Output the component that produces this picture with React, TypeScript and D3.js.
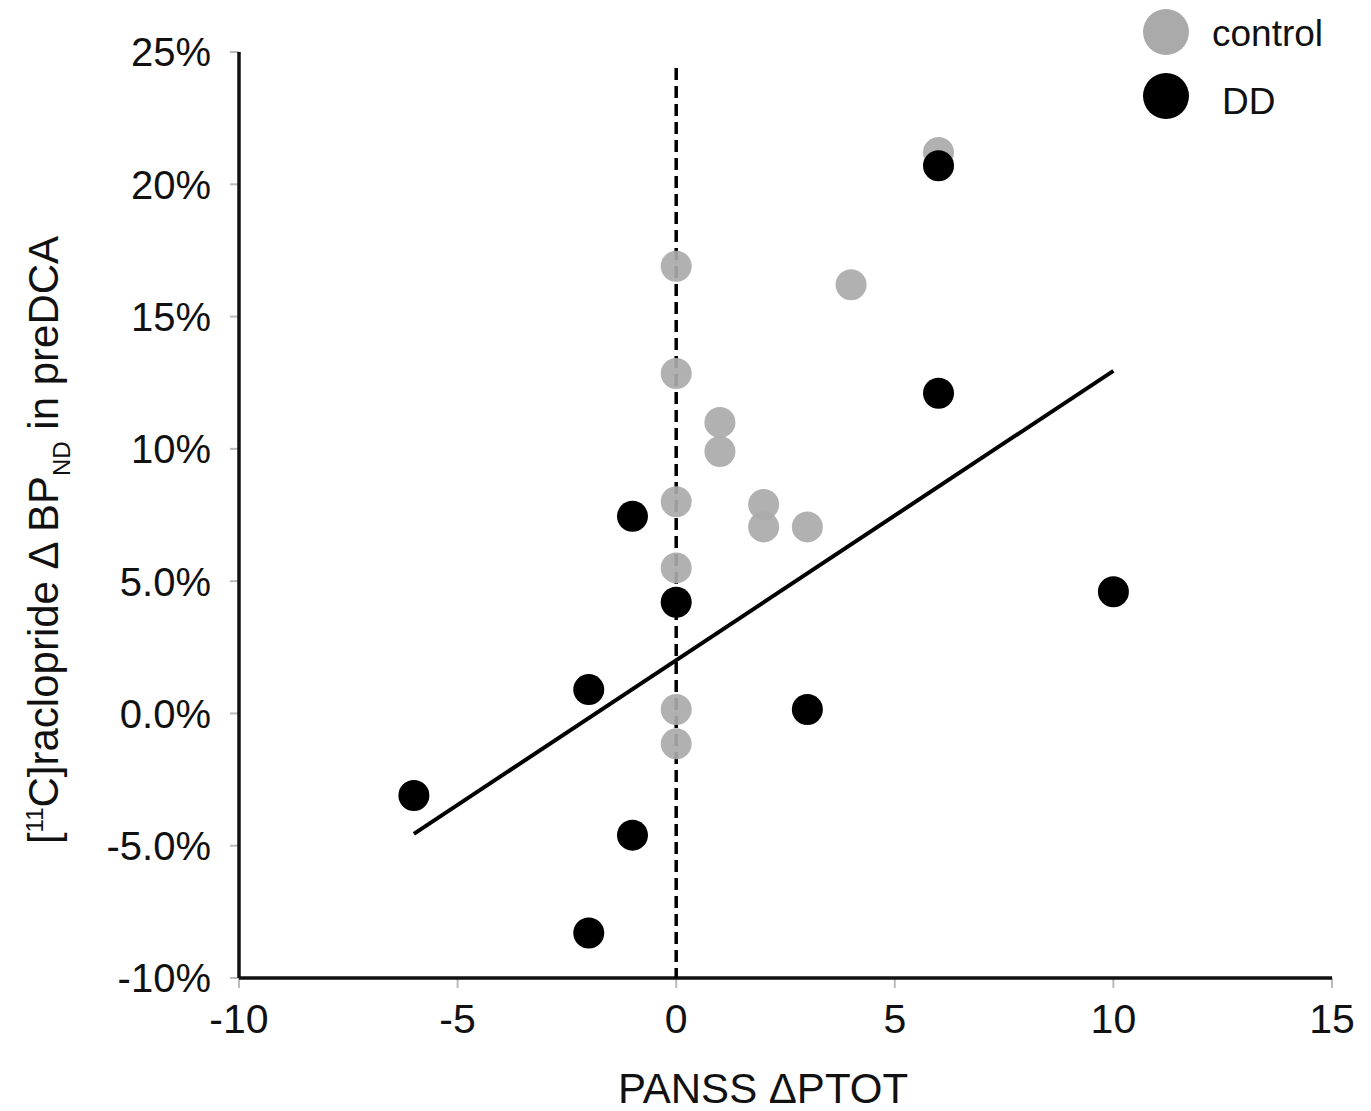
import React from "react";
import * as d3 from "d3";

const controlX = [6, 0, 4, 0, 1, 1, 0, 2, 2, 3, 0, 0, 0];
const controlY = [21.2, 16.9, 16.2, 12.85, 11.0, 9.9, 8.0, 7.9, 7.05, 7.05, 5.5, 0.15, -1.15];
const ddX = [6, 6, -1, 0, 10, -2, 3, -6, -1, -2];
const ddY = [20.7, 12.1, 7.45, 4.2, 4.6, 0.9, 0.15, -3.1, -4.6, -8.3];
const fitX = [-6, 10];
const fitY = [-4.55, 12.95];
const xTicks = [-10, -5, 0, 5, 10, 15];
const yTicks = [-10, -5, 0, 5, 10, 15, 20, 25];
const yTickLabels = ["-10%", "-5.0%", "0.0%", "5.0%", "10%", "15%", "20%", "25%"];
const legendLabels = ["control", "DD"];

const W = 1371;
const H = 1111;
const left = 239;
const right = 1332;
const top = 52;
const bottom = 978;
const FONT = "'Liberation Sans', Arial, Helvetica, sans-serif";

export default function App() {
  const x = d3.scaleLinear().domain([-10, 15]).range([left, right]);
  const y = d3.scaleLinear().domain([-10, 25]).range([bottom, top]);
  const line = d3.line<number>().x((d) => x(fitX[d])).y((d) => y(fitY[d]));
  const gray = "#aaaaaa";
  const r = 15.5;

  return (
    <svg width={W} height={H} style={{ position: "absolute", left: 0, top: 0, background: "#fff" }} fontFamily={FONT}>
      {/* ticks */}
      {yTicks.map((t, i) => (
        <g key={"y" + t}>
          <line x1={left - 9} x2={left} y1={y(t)} y2={y(t)} stroke="#bbb" strokeWidth={2} />
          <text x={left - 28} y={y(t)} dy="0.36em" textAnchor="end" fontSize={40} fill="#111">
            {yTickLabels[i]}
          </text>
        </g>
      ))}
      {xTicks.map((t) => (
        <g key={"x" + t}>
          <line x1={x(t)} x2={x(t)} y1={bottom} y2={bottom + 10} stroke="#bbb" strokeWidth={2} />
          <text x={x(t)} y={bottom + 40} dy="0.36em" textAnchor="middle" fontSize={41} fill="#111">
            {t}
          </text>
        </g>
      ))}
      {/* axes */}
      <line x1={left} x2={left} y1={top} y2={bottom} stroke="#111" strokeWidth={3.5} />
      <line x1={left} x2={right} y1={bottom} y2={bottom} stroke="#111" strokeWidth={3.5} />
      {/* dashed zero line */}
      <line x1={x(0)} x2={x(0)} y1={68} y2={bottom} stroke="#000" strokeWidth={3.5} strokeDasharray="12 6" />
      {/* points */}
      {controlX.map((v, i) => (
        <circle key={"c" + i} cx={x(v)} cy={y(controlY[i])} r={r} fill={gray} fillOpacity={0.92} />
      ))}
      {ddX.map((v, i) => (
        <circle key={"d" + i} cx={x(v)} cy={y(ddY[i])} r={r} fill="#000" />
      ))}
      {/* fit line */}
      <path d={line([0, 1]) || ""} stroke="#000" strokeWidth={4} fill="none" />
      {/* axis titles */}
      <text x={763} y={1103} textAnchor="middle" fontSize={42} fill="#111">
        PANSS ΔPTOT
      </text>
      <text transform={`translate(58, 540) rotate(-90)`} textAnchor="middle" fontSize={42} fill="#111">
        [<tspan dy={-15} fontSize={24}>11</tspan>
        <tspan dy={15}>C]raclopride Δ BP</tspan>
        <tspan dy={12} fontSize={24}>ND</tspan>
        <tspan dy={-12}> in preDCA</tspan>
      </text>
      {/* legend */}
      <circle cx={1166} cy={32} r={23} fill={gray} />
      <circle cx={1166} cy={96} r={23} fill="#000" />
      <text x={1212} y={33} dy="0.36em" fontSize={37} fill="#111">
        {legendLabels[0]}
      </text>
      <text x={1222} y={101} dy="0.36em" fontSize={37} fill="#111">
        {legendLabels[1]}
      </text>
    </svg>
  );
}
